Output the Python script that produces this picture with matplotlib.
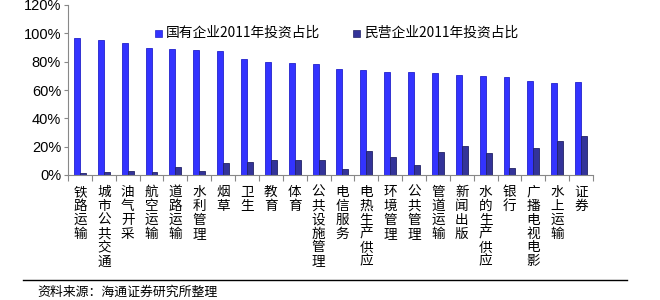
import matplotlib
matplotlib.use("Agg")
import matplotlib.pyplot as plt
import numpy as np
from matplotlib.lines import Line2D
from matplotlib.patches import Rectangle

plt.rcParams['font.family'] = ['Noto Sans CJK SC', 'DejaVu Sans']

categories = ["铁路运输", "城市公共交通", "油气开采", "航空运输", "道路运输", "水利管理",
              "烟草", "卫生", "教育", "体育", "公共设施管理", "电信服务", "电热生产供应",
              "环境管理", "公共管理", "管道运输", "新闻出版", "水的生产供应", "银行",
              "广播电视电影", "水上运输", "证券"]
state_owned = [97, 95.3, 93.4, 89.4, 89.2, 88.5, 87.8, 81.6, 80.0, 79.3, 78.6, 74.8,
               74.1, 72.7, 72.7, 72.0, 70.8, 69.9, 69.4, 66.6, 65.2, 65.4]
private = [1.6, 2.1, 3.1, 2.4, 5.9, 2.8, 8.2, 9.4, 10.6, 10.8, 10.6, 4.2,
           16.9, 12.7, 7.1, 16.2, 20.7, 15.5, 4.9, 18.8, 24.2, 27.5]
series_names = ["国有企业2011年投资占比", "民营企业2011年投资占比"]
yticks = [0, 20, 40, 60, 80, 100, 120]
source_text = "资料来源：海通证券研究所整理"

c_blue = "#3333FF"
c_blue_edge = "#2222CC"
c_dark = "#333399"
c_dark_edge = "#222266"

fig = plt.figure(figsize=(6.6, 3.0), dpi=100)
ax = fig.add_axes([68/660, 1-175/300, (593-68)/660, 170/300])

x = np.arange(len(categories))
w = 0.25
ax.bar(x - w/2, state_owned, w, color=c_blue, edgecolor=c_blue_edge, linewidth=0.6)
ax.bar(x + w/2, private, w, color=c_dark, edgecolor=c_dark_edge, linewidth=0.6)

ax.set_xlim(-0.5, len(categories) - 0.5)
ax.set_ylim(0, 120)
ax.set_yticks(yticks)
ax.set_yticklabels([f"{v}%" for v in yticks], family=['Liberation Sans'], fontsize=10.5)
ax.set_xticks(np.arange(len(categories) + 1) - 0.5)
ax.set_xticklabels([])
ax.tick_params(axis='x', length=4, color="#888888", width=0.8)
ax.tick_params(axis='y', length=3, color="#888888", width=0.8, pad=2)
for s in ['top', 'right']:
    ax.spines[s].set_visible(False)
for s in ['left', 'bottom']:
    ax.spines[s].set_color("#888888")
    ax.spines[s].set_linewidth(0.8)

for xi, cat in zip(x, categories):
    ax.text(xi, -7, "\n".join(cat), ha='center', va='top', fontsize=9.8,
            linespacing=0.99, clip_on=False)

# legend
def legend_item(xp, yp, color, edge, label):
    fig.patches.append(Rectangle((xp/660, 1-(yp+4)/300), 7/660, 7/300,
                                 transform=fig.transFigure, facecolor=color,
                                 edgecolor=edge, linewidth=0.5))
    fig.text((xp+11)/660, 1-yp/300, label, fontsize=9.9, va='center', ha='left')

legend_item(155, 33, c_blue, c_blue_edge, series_names[0])
legend_item(353, 33, c_dark, c_dark_edge, series_names[1])

fig.add_artist(Line2D([23/660, 627/660], [1-280/300, 1-280/300], color='black',
                      linewidth=1.0, transform=fig.transFigure))
fig.text(37/660, 1-292/300, source_text, fontsize=9.3, va='center', ha='left')

fig.savefig("out.png", dpi=100)
